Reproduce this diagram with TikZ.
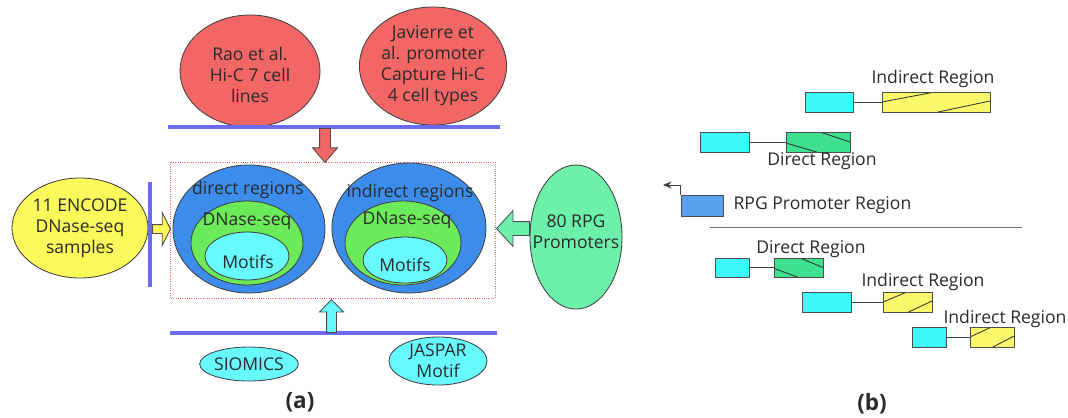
\documentclass[tikz,border=0pt]{standalone}
\usepackage{fontspec}
\setmainfont{Open Sans}
\usetikzlibrary{shapes.geometric,shapes.arrows,calc,positioning,arrows.meta}

% one pixel of the layout grid
\newcommand{\pix}{*0.7113pt}

\definecolor{hicred}{HTML}{F26666}
\definecolor{barblue}{HTML}{6B6BF2}
\definecolor{regblue}{HTML}{3C8CEB}
\definecolor{dnasegreen}{HTML}{6CEB5A}
\definecolor{motifcyan}{HTML}{66FAFF}
\definecolor{encyellow}{HTML}{FAFA5A}
\definecolor{rpggreen}{HTML}{6CF0AA}
\definecolor{boxcyan}{HTML}{3CFAFA}
\definecolor{boxyellow}{HTML}{F8F86A}
\definecolor{boxgreen}{HTML}{3CE08E}
\definecolor{boxblue}{HTML}{5AA0EE}
\definecolor{txtgray}{HTML}{2A2A2A}

\tikzset{
  src/.style={ellipse, draw=black!75, line width=0.6pt, inner sep=0pt, align=center,
    text=txtgray, font=\fontsize{12.5}{15}\selectfont},
  bar/.style={barblue, line width=2.8pt},
  fatarrow/.style={single arrow, draw=black!70, line width=0.6pt, inner xsep=0pt,
    anchor=tail},
  regbox/.style={rectangle, draw=black!70, line width=0.6pt, minimum height=20\pix, inner sep=0pt},
  inbox/.style={regbox, fill=boxcyan},
  indir/.style={regbox, fill=boxyellow, path picture={
      \draw[black!80] ($(path picture bounding box.south west)!0.5!(path picture bounding box.north west)$)
        -- ($(path picture bounding box.north west)!0.49!(path picture bounding box.north east)$);
      \draw[black!80] ($(path picture bounding box.south west)!0.52!(path picture bounding box.south east)$)
        -- ($(path picture bounding box.north east)!0.45!(path picture bounding box.south east)$);}},
  dir/.style={regbox, fill=boxgreen, path picture={
      \draw[black!80] ($(path picture bounding box.north west)!0.53!(path picture bounding box.north east)$)
        -- ($(path picture bounding box.north east)!0.5!(path picture bounding box.south east)$);
      \draw[black!80] ($(path picture bounding box.north west)!0.55!(path picture bounding box.south west)$)
        -- ($(path picture bounding box.south west)!0.48!(path picture bounding box.south east)$);}},
  lbl/.style={text=txtgray, font=\fontsize{12.5}{15}\selectfont, inner sep=0pt},
  link/.style={black!75, line width=0.6pt},
  caption/.style={text=txtgray, font=\fontsize{16}{19}\selectfont\bfseries, inner sep=0pt}
}

\begin{document}
\begin{tikzpicture}[x=0.025cm, y=-0.025cm]
  \useasboundingbox (0,0) rectangle (1068,417);

  % (a) data sources
  \node[src, fill=hicred, minimum width=140\pix, minimum height=112\pix] (rao) at (250,71) {};
  \node[lbl, align=center] at (250,75) {Rao et al.\\Hi-C 7 cell\\lines};
  \node[src, fill=hicred, minimum width=140\pix, minimum height=118\pix] (jav) at (433,66)
    {Javierre et\\al. promoter\\Capture Hi-C\\4 cell types};
  \draw[bar] (168,127) -- (500,127);

  \node[src, fill=encyellow, minimum width=136\pix, minimum height=100\pix] (enc) at (80,228)
    {11 ENCODE\\DNase-seq\\samples};
  \draw[bar] (150,182) -- (150,287);

  \node[src, fill=rpggreen, minimum width=92\pix, minimum height=144\pix] (rpg) at (576,237) {};
  \node[lbl, align=center] at (576,232) {80 RPG\\Promoters};

  \node[src, fill=motifcyan, minimum width=94\pix, minimum height=34\pix] (siomics) at (249,364) {SIOMICS};
  \node[src, fill=motifcyan, minimum width=98\pix, minimum height=42\pix] (jaspar) at (438,361)
    {JASPAR\\Motif};
  \draw[bar] (170,333) -- (497,333);

  % regions frame
  \draw[hicred, densely dotted, line width=0.6pt] (170,162) rectangle (495,298);

  \node[src, fill=regblue, minimum width=152\pix, minimum height=128\pix] (direg) at (249,229) {};
  \node[src, fill=dnasegreen, minimum width=112\pix, minimum height=84\pix] (didn) at (247,243) {};
  \node[src, fill=motifcyan, minimum width=84\pix, minimum height=48\pix] (dimo) at (247,256) {};
  \node[lbl] at (248,190) {direct regions};
  \node[lbl] at (247,221) {DNase-seq};
  \node[lbl] at (248,262) {Motifs};

  \node[src, fill=regblue, minimum width=154\pix, minimum height=130\pix] (inreg) at (409,228) {};
  \node[src, fill=dnasegreen, minimum width=116\pix, minimum height=84\pix] (indn) at (403,243) {};
  \node[src, fill=motifcyan, minimum width=84\pix, minimum height=46\pix] (inmo) at (405,260) {};
  \node[lbl] at (410,193) {indirect regions};
  \node[lbl] at (407,220) {DNase-seq};
  \node[lbl] at (405,265) {Motifs};

  % block arrows
  \node[fatarrow, fill=hicred, rotate=-90, minimum height=34\pix, inner ysep=5\pix,
    single arrow head extend=7\pix, single arrow tip angle=81] (hicarr) at (325,128) {};
  \node[fatarrow, fill=encyellow, minimum height=18\pix, inner ysep=4\pix,
    single arrow head extend=12\pix, single arrow tip angle=127] (encarr) at (152,229) {};
  \node[fatarrow, fill=rpggreen, shape border rotate=180, minimum height=33\pix, inner ysep=6.5\pix,
    single arrow head extend=11\pix, single arrow tip angle=95] (rpgarr) at (530,228.5) {};
  \node[fatarrow, fill=motifcyan, rotate=90, minimum height=33\pix, inner ysep=4.5\pix,
    single arrow head extend=7\pix, single arrow tip angle=88] (motarr) at (331.5,333) {};

  \node[caption] (capa) at (300,402) {(a)};

  % (b) promoter and regions
  \node[inbox, minimum width=48\pix] (c1) at (829,102) {};
  \node[indir, minimum width=108\pix] (y1) at (936,102) {};
  \draw[link] (c1) -- (y1);
  \node[lbl] at (933,79) {Indirect Region};

  \node[inbox, minimum width=49\pix] (c2) at (724.5,142) {};
  \node[dir, minimum width=64\pix] (g2) at (818,142) {};
  \draw[link] (c2) -- (g2);
  \node[lbl] at (822,161) {Direct Region};

  \node[regbox, fill=boxblue, minimum width=42\pix, minimum height=21\pix] (prom) at (702,205.5) {};
  \coordinate (tss) at (663,185);
  \draw[black!75, line width=0.6pt, -{Stealth[length=6pt, width=5pt]}] (prom.north west) |- (tss);
  \node[lbl, right=7pt of prom] {RPG Promoter Region};

  \draw[black!55, line width=0.6pt] (710,227) -- (1022,227);

  \node[inbox, minimum width=34\pix, minimum height=19\pix] (c3) at (732,267.5) {};
  \node[dir, minimum width=49\pix, minimum height=19\pix] (g3) at (798.5,267.5) {};
  \draw[link] (c3) -- (g3);
  \node[lbl] at (811,249) {Direct Region};

  \node[inbox, minimum width=49\pix] (c4) at (826.5,302) {};
  \node[indir, minimum width=49\pix] (y4) at (907.5,302) {};
  \draw[link] (c4) -- (y4);
  \node[lbl] at (923,282) {Indirect Region};

  \node[inbox, minimum width=34\pix] (c5) at (929,337) {};
  \node[indir, minimum width=44\pix] (y5) at (992,337) {};
  \draw[link] (c5) -- (y5);
  \node[lbl] at (1005,319) {Indirect Region};

  \node[caption] (capb) at (872,404) {(b)};
\end{tikzpicture}
\end{document}
